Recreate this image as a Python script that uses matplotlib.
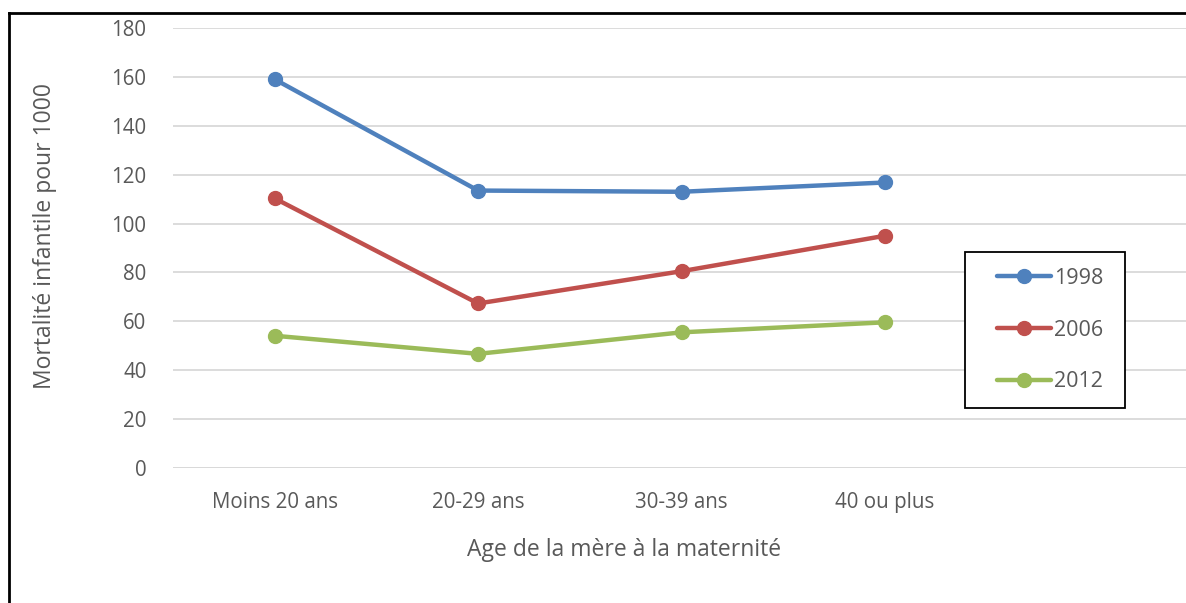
import matplotlib.pyplot as plt
from matplotlib.lines import Line2D
from matplotlib.patches import Rectangle

categories = ['Moins 20 ans', '20-29 ans', '30-39 ans', '40 ou plus']
y1998 = [159, 113.5, 113, 116.8]
y2006 = [110.3, 67.3, 80.5, 95]
y2012 = [54.1, 46.7, 55.5, 59.6]
yticks = [0, 20, 40, 60, 80, 100, 120, 140, 160, 180]

plt.rcParams['font.family'] = ['Open Sans', 'DejaVu Sans']
txt = '#595959'

W, H = 1186, 603
fig = plt.figure(figsize=(W / 100, H / 100), dpi=100)
# axes: left 173px, right ~1190px (beyond the picture), top 28px, bottom 468px
L, R, T, B = 173, 1190, 28, 468
ax = fig.add_axes([L / W, 1 - B / H, (R - L) / W, (B - T) / H])

def ax_xy(px, py):
    return (px - L) / (R - L), (B - py) / (B - T)

x = range(len(categories))
series = [('1998', y1998, '#4F81BD'), ('2006', y2006, '#C0504D'), ('2012', y2012, '#9BBB59')]
for name, vals, col in series:
    ax.plot(x, vals, color=col, lw=3.2, marker='o', ms=10, label=name, solid_capstyle='round')

ax.set_xlim(-0.5, 4.5)
ax.set_ylim(0, 180)
ax.set_yticks(yticks)
ax.set_xticks(list(x))
ax.set_xticklabels(categories)
ax.tick_params(axis='both', length=0, labelsize=14.8, colors=txt)
ax.tick_params(axis='y', pad=19)
ax.tick_params(axis='x', pad=17)
ax.grid(axis='y', color='#D9D9D9', lw=1.3)
ax.set_axisbelow(True)
for s in ax.spines.values():
    s.set_visible(False)
ax.axhline(0, color='#D9D9D9', lw=1.3, zorder=0)

ax.set_ylabel('Mortalité infantile pour 1000', fontsize=16.5, color=txt)
ax.yaxis.set_label_coords(*ax_xy(45, 236))
ax.set_xlabel('Age de la mère à la maternité', fontsize=16.5, color=txt)
ax.xaxis.set_label_coords(*ax_xy(624, 550))
ax.xaxis.label.set_va('center')
ax.yaxis.label.set_va('center')

# legend box
x0, y0 = ax_xy(965, 408)
x1, y1 = ax_xy(1125, 252)
ax.add_patch(Rectangle((x0, y0), x1 - x0, y1 - y0, transform=ax.transAxes, fill=True,
                       facecolor='white', edgecolor='black', lw=1.3, zorder=4))
leg = ax.legend(loc='center', bbox_to_anchor=ax_xy(1050, 330), frameon=False, fontsize=15.5,
                handlelength=2.5, labelspacing=1.42, borderpad=0, handletextpad=0.15,
                borderaxespad=0, labelcolor=txt)
leg.set_zorder(5)

# outer chart frame (left and top edges visible)
fig.add_artist(Line2D([8.5 / W, 8.5 / W], [0, 1 - 12.5 / H], color='black', lw=2, transform=fig.transFigure))
fig.add_artist(Line2D([8.5 / W, 1], [1 - 12.5 / H, 1 - 12.5 / H], color='black', lw=2, transform=fig.transFigure))

fig.savefig('out.png', dpi=100)
